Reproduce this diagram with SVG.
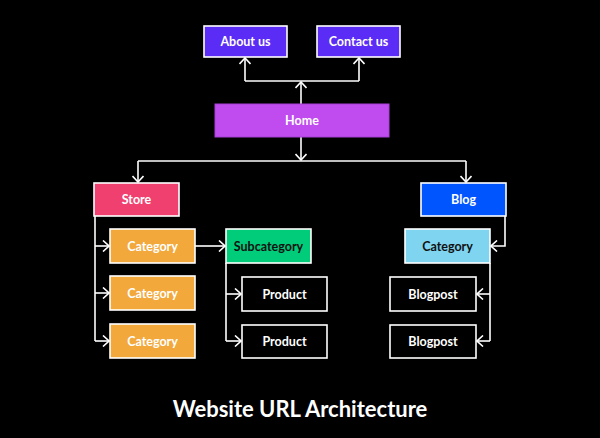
<svg xmlns="http://www.w3.org/2000/svg" width="600" height="438" viewBox="0 0 600 438">
<defs>
<marker id="ah" viewBox="0 0 8 12" refX="7" refY="6" markerWidth="8" markerHeight="12" markerUnits="userSpaceOnUse" orient="auto">
<path d="M1,0.5 L7,6 L1,11.5" fill="none" stroke="#fff" stroke-width="1.6"/>
</marker>
<style>
.n rect{stroke:#fff;stroke-width:1.6}
.n text{font-family:Lato,"Open Sans",sans-serif;font-weight:700;font-size:12.5px;text-anchor:middle;dominant-baseline:central;fill:#fff}
.n text.d{fill:#111}
#conn path{fill:none;stroke:#fff;stroke-width:1.6}
</style>
</defs>
<rect width="600" height="438" fill="#000"/>
<g id="conn">
<path d="M301,104 L301,82" marker-end="url(#ah)"/>
<path d="M245,81 L359,81"/>
<path d="M245,81 L245,58" marker-end="url(#ah)"/>
<path d="M359,81 L359,58" marker-end="url(#ah)"/>
<path d="M301,137 L301,160" marker-end="url(#ah)"/>
<path d="M138,161 L466,161"/>
<path d="M138,161 L138,182" marker-end="url(#ah)"/>
<path d="M466,161 L466,182" marker-end="url(#ah)"/>
<path d="M95,216 L95,341"/>
<path d="M95,246 L109,246" marker-end="url(#ah)"/>
<path d="M95,293 L109,293" marker-end="url(#ah)"/>
<path d="M95,341 L109,341" marker-end="url(#ah)"/>
<path d="M195,246 L225,246" marker-end="url(#ah)"/>
<path d="M226,263 L226,341"/>
<path d="M226,294 L241,294" marker-end="url(#ah)"/>
<path d="M226,341 L241,341" marker-end="url(#ah)"/>
<path d="M505,216 L505,246 L491,246" marker-end="url(#ah)"/>
<path d="M490,263 L490,341"/>
<path d="M490,294 L477,294" marker-end="url(#ah)"/>
<path d="M490,341 L477,341" marker-end="url(#ah)"/>
</g>
<g id="about" class="n"><rect x="204" y="26" width="83" height="31" fill="#5a2cf5"/><text x="245.5" y="41.5">About us</text></g>
<g id="contact" class="n"><rect x="317" y="26" width="83" height="31" fill="#5a2cf5"/><text x="358.5" y="41.5">Contact us</text></g>
<g id="home" class="n"><rect x="215" y="104" width="174" height="33" fill="#c04cf0" style="stroke:#a63fd6;stroke-width:1"/><text x="302" y="120.5">Home</text></g>
<g id="store" class="n"><rect x="94" y="183" width="85" height="33" fill="#f0406f"/><text x="136.5" y="199.5">Store</text></g>
<g id="cat1" class="n"><rect x="110" y="229" width="85" height="34" fill="#f2a83a"/><text x="152.5" y="246">Category</text></g>
<g id="cat2" class="n"><rect x="110" y="276" width="85" height="34" fill="#f2a83a"/><text x="152.5" y="293">Category</text></g>
<g id="cat3" class="n"><rect x="110" y="324" width="85" height="34" fill="#f2a83a"/><text x="152.5" y="341">Category</text></g>
<g id="subcat" class="n"><rect x="226" y="229" width="85" height="34" fill="#00cc7a"/><text class="d" x="268.5" y="246">Subcategory</text></g>
<g id="prod1" class="n"><rect x="242" y="277" width="85" height="34" fill="#000"/><text x="284.5" y="294">Product</text></g>
<g id="prod2" class="n"><rect x="242" y="325" width="85" height="33" fill="#000"/><text x="284.5" y="341.5">Product</text></g>
<g id="blog" class="n"><rect x="421" y="183" width="85" height="33" fill="#0055ff"/><text x="463.5" y="199.5">Blog</text></g>
<g id="bcat" class="n"><rect x="405" y="229" width="85" height="34" fill="#7fd4f0"/><text class="d" x="447.5" y="246">Category</text></g>
<g id="post1" class="n"><rect x="390" y="277" width="86" height="34" fill="#000"/><text x="433" y="294">Blogpost</text></g>
<g id="post2" class="n"><rect x="390" y="325" width="86" height="33" fill="#000"/><text x="433" y="341.5">Blogpost</text></g>
<text x="300" y="417" font-family="Lato,'Open Sans',sans-serif" font-weight="700" font-size="22" fill="#fff" text-anchor="middle">Website URL Architecture</text>
</svg>
